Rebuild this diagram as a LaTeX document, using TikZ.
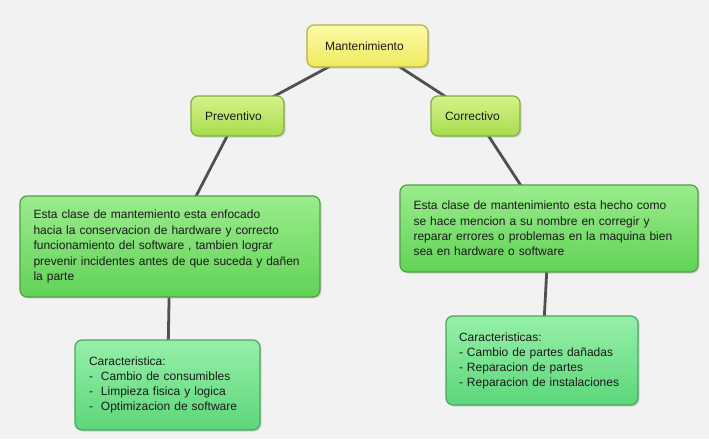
\documentclass[tikz,border=0pt]{standalone}
\usepackage{fontspec}
\setmainfont{Liberation Sans}
\usetikzlibrary{shadows,backgrounds}
\definecolor{bgc}{HTML}{F2F2F2}
\definecolor{linec}{HTML}{505050}
\definecolor{yelT}{HTML}{FBFBA8}
\definecolor{yelB}{HTML}{EEEA5C}
\definecolor{yelD}{HTML}{B5AE48}
\definecolor{lgT}{HTML}{D6F28A}
\definecolor{lgB}{HTML}{A8DC4E}
\definecolor{lgD}{HTML}{7FB040}
\definecolor{gT}{HTML}{9AEC8C}
\definecolor{gB}{HTML}{62D257}
\definecolor{gD}{HTML}{4FA043}
\definecolor{mT}{HTML}{96F0A8}
\definecolor{mB}{HTML}{5CD67A}
\definecolor{mD}{HTML}{48A85C}
\definecolor{txt}{HTML}{1A1A1A}
\tikzset{
  box/.style={rounded corners=7pt, line width=1.2pt, font=\fontsize{12}{15.4}\selectfont, text=txt,
    align=left, drop shadow={shadow xshift=1.5pt, shadow yshift=-1.5pt, opacity=0.25}},
  ybox/.style={box, draw=yelD, top color=yelT, bottom color=yelB, inner xsep=18pt},
  lgbox/.style={box, draw=lgD, top color=lgT, bottom color=lgB, inner xsep=14pt},
  gbox/.style={box, draw=gD, top color=gT, bottom color=gB, inner xsep=13.5pt},
  mbox/.style={box, draw=mD, top color=mT, bottom color=mB, inner xsep=14pt},
  conn/.style={draw=linec, line width=2.8pt}
}
\begin{document}
\begin{tikzpicture}[x=1pt,y=-1pt]
\useasboundingbox (0,0) rectangle (709,439);
\node[ybox, text width=85pt, minimum height=42pt] (m) at (367.5,46) {Mantenimiento};
\node[lgbox, text width=65pt, minimum height=40pt] (p) at (237.5,116) {Preventivo};
\node[lgbox, text width=61pt, minimum height=40pt] (c) at (475.5,116) {Correctivo};
\node[gbox, text width=273pt, minimum height=101pt] (pd) at (170,246.5) {Esta clase de mantemiento esta enfocado\\hacia la conservacion de hardware y correcto\\funcionamiento del software , tambien lograr\\prevenir incidentes antes de que suceda y dañen\\la parte};
\node[gbox, text width=271pt, minimum height=87pt] (cd) at (549,228.5) {Esta clase de mantenimiento esta hecho como\\se hace mencion a su nombre en corregir y\\reparar errores o problemas en la maquina bien\\sea en hardware o software};
\node[mbox, text width=157pt, minimum height=90pt, font=\fontsize{12}{15}\selectfont] (pc) at (167.5,385) {Caracteristica:\\-\ \ Cambio de consumibles\\-\ \ Limpieza fisica y logica\\-\ \ Optimizacion de software};
\node[mbox, text width=166pt, inner xsep=13pt, minimum height=89pt, font=\fontsize{12}{15}\selectfont] (cc) at (542,360.5) {Caracteristicas:\\- Cambio de partes dañadas\\- Reparacion de partes\\- Reparacion de instalaciones};
\begin{scope}[on background layer]
\fill[bgc] (0,0) rectangle (709,439);
\draw[conn] (m.center) -- (p.center);
\draw[conn] (m.center) -- (c.center);
\draw[conn] (p.center) -- (pd.center);
\draw[conn] (c.center) -- (cd.center);
\draw[conn] (pd.center) -- (pc.center);
\draw[conn] (cd.center) -- (cc.center);
\end{scope}
\end{tikzpicture}
\end{document}
